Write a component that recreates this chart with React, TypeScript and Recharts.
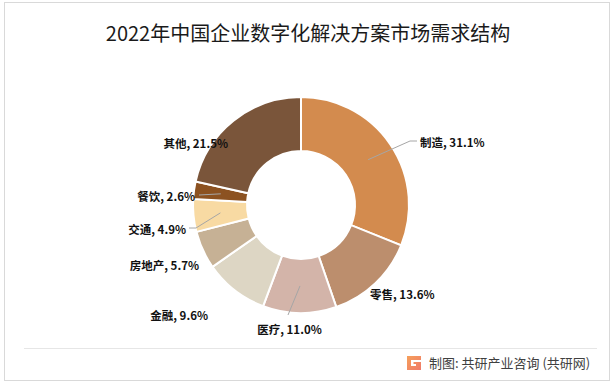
import React from "react";
import { PieChart, Pie, Cell } from "recharts";

// ---- data ----
const categories = ["制造", "零售", "医疗", "金融", "房地产", "交通", "餐饮", "其他"];
const shares = [31.1, 13.6, 11.0, 9.6, 5.7, 4.9, 2.6, 21.5];
const colors = ["#D38B4E", "#BC8E6D", "#D3B4A9", "#DDD6C4", "#C6B195", "#F8DAA3", "#8C5221", "#7A553A"];

const TITLE = "2022年中国企业数字化解决方案市场需求结构";
const SOURCE = "制图: 共研产业咨询 (共研网)";

const chartData = categories.map((name, i) => ({ name, value: shares[i] }));

// label layout (offsets from pie centre), leader line bend points
type Layout = { x: number; y: number; anchor: "start" | "middle" | "end"; line?: number[][] };
const LABEL_LAYOUT: Layout[] = [
  { x: 119, y: -63, anchor: "start", line: [[109, -64], [116, -64]] },
  { x: 69, y: 89, anchor: "start" },
  { x: -11.5, y: 124, anchor: "middle", line: [[-13, 110]] },
  { x: -93, y: 110, anchor: "end" },
  { x: -102, y: 60, anchor: "end" },
  { x: -115, y: 24, anchor: "end", line: [[-105, 23], [-112, 23]] },
  { x: -106, y: -9, anchor: "end", line: [[-102, -10]] },
  { x: -73, y: -62, anchor: "end" },
];

const RAD = Math.PI / 180;

const renderLabel = (props: any) => {
  const { cx, cy, midAngle, innerRadius, outerRadius, index, name, value } = props;
  const L = LABEL_LAYOUT[index];
  if (!L) return null;
  let path: string | null = null;
  if (L.line) {
    const r = (innerRadius + outerRadius) / 2;
    const sx = cx + r * Math.cos(-midAngle * RAD);
    const sy = cy + r * Math.sin(-midAngle * RAD);
    path = `M${sx},${sy}` + L.line.map((p) => ` L${cx + p[0]},${cy + p[1]}`).join("");
  }
  return (
    <g key={`lbl-${index}`}>
      {path && <path d={path} stroke="#A6A6A6" strokeWidth={1} fill="none" />}
      <text
        x={cx + L.x}
        y={cy + L.y}
        textAnchor={L.anchor}
        dominantBaseline="central"
        fontFamily="'Noto Sans CJK SC', 'Noto Sans', sans-serif"
        fontWeight={700}
        fontSize={11.5}
        fill="#111"
      >
        {`${name}, ${Number(value).toFixed(1)}%`}
      </text>
    </g>
  );
};

export default function App() {
  return (
    <div
      style={{
        position: "absolute",
        left: 0,
        top: 0,
        width: 616,
        height: 384,
        background: "#fff",
        overflow: "hidden",
        fontFamily: "'Noto Sans CJK SC', sans-serif",
      }}
    >
      <div
        style={{
          position: "absolute",
          left: 4,
          top: 2,
          width: 606,
          height: 379,
          boxSizing: "border-box",
          border: "1px solid #D9D9D9",
        }}
      />
      <div
        style={{
          position: "absolute",
          left: 8,
          top: 20,
          width: 600,
          textAlign: "center",
          fontSize: 20,
          lineHeight: "26px",
          color: "#1a1a1a",
          fontWeight: 400,
          whiteSpace: "nowrap",
        }}
      >
        {TITLE}
      </div>
      <div style={{ position: "absolute", left: 0, top: 0 }}>
        <PieChart width={616} height={384} margin={{ top: 0, right: 0, bottom: 0, left: 0 }}>
          <Pie
            data={chartData}
            dataKey="value"
            nameKey="name"
            cx={301}
            cy={205}
            innerRadius={54}
            outerRadius={108}
            startAngle={90}
            endAngle={-270}
            stroke="#fff"
            strokeWidth={2}
            isAnimationActive={false}
            label={renderLabel}
            labelLine={false}
          >
            {chartData.map((d, i) => (
              <Cell key={d.name} fill={colors[i]} />
            ))}
          </Pie>
        </PieChart>
      </div>
      <div
        style={{
          position: "absolute",
          left: 24,
          top: 348,
          width: 573,
          height: 1,
          background: "#E6E6E6",
        }}
      />
      <svg
        style={{ position: "absolute", left: 407, top: 356 }}
        width={14}
        height={14}
        viewBox="0 0 14 14"
      >
        <defs>
          <linearGradient id="lg" x1="0" y1="0" x2="1" y2="1">
            <stop offset="0" stopColor="#F5A05A" />
            <stop offset="1" stopColor="#F07A6A" />
          </linearGradient>
        </defs>
        <path
          d="M0,0 H14 V4 H4 V10 H9 V8 H6.5 V6 H14 V14 H0 Z"
          fill="url(#lg)"
        />
      </svg>
      <div
        style={{
          position: "absolute",
          left: 429,
          top: 354,
          fontSize: 13,
          lineHeight: "18px",
          color: "#404040",
          whiteSpace: "nowrap",
        }}
      >
        {SOURCE}
      </div>
    </div>
  );
}
